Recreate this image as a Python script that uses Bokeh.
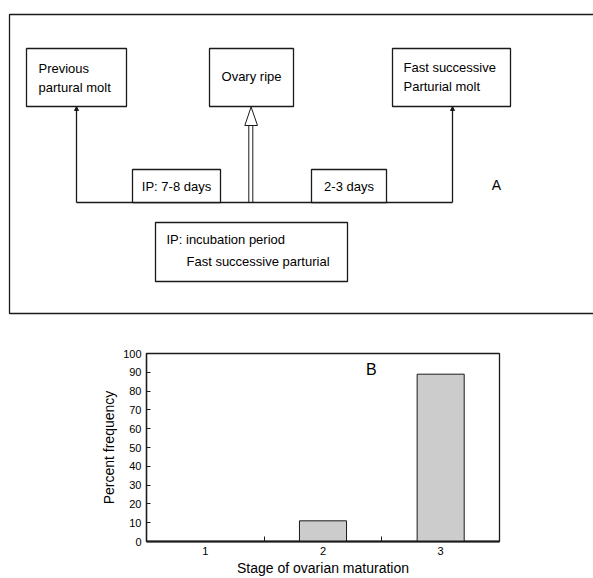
from bokeh.plotting import figure
from bokeh.layouts import column
from bokeh.models import Range1d, FixedTicker, Arrow, NormalHead
from bokeh.core.properties import value
from bokeh.embed import file_html
from bokeh.resources import INLINE

# ---------------- data (panel B) ----------------
stages = [1, 2, 3]
stage_labels = ["1", "2", "3"]
percent = [0, 11, 89]
y_ticks = list(range(0, 101, 10))

# ---------------- diagram text (panel A) ----------------
box_texts = [
    ["Previous", "partural molt"],
    ["Ovary ripe"],
    ["Fast successive", "Parturial molt"],
]
period_texts = ["IP: 7-8 days", "2-3 days"]
legend_texts = ["IP: incubation period", "Fast successive parturial"]
panel_a_label = "A"
panel_b_label = "B"

FONT = "Liberation Sans"
LC = "#1a1a1a"

# ---------------- panel A: diagram in pixel space ----------------
pa = figure(width=593, height=320, output_backend="svg", toolbar_location=None,
            x_range=Range1d(0, 593), y_range=Range1d(320, 0),
            min_border=0, outline_line_color=None)
pa.frame_align = False
pa.axis.visible = False
pa.grid.visible = False

# layout (positions only)
outer = dict(left=9, right=620, top=14, bottom=313)
top_boxes = dict(left=[26, 209, 392], right=[126, 293, 510], top=[48, 48, 48], bottom=[106, 106, 106])
per_boxes = dict(left=[132, 311], right=[220, 386], top=[169, 169], bottom=[202, 202])
leg_box = dict(left=155, right=347, top=222, bottom=281)
base_y = 202
left_x, right_x = 76, 452

pa.quad(left=[outer["left"]], right=[outer["right"]], top=[outer["top"]], bottom=[outer["bottom"]],
        fill_color=None, line_color=LC, line_width=1.3)
# baseline
pa.line([left_x, right_x], [base_y, base_y], line_color=LC, line_width=1.3)
# side arrows
for xx in (left_x, right_x):
    pa.add_layout(Arrow(end=NormalHead(size=4, fill_color=LC, line_color=LC),
                        x_start=xx, y_start=base_y, x_end=xx, y_end=106,
                        line_color=LC, line_width=1.3))
# center double-shaft hollow arrow
pa.segment(x0=[248.3, 252.3], y0=[base_y, base_y], x1=[248.3, 252.3], y1=[125, 125],
           line_color=LC, line_width=1)
pa.patch([244.3, 257.0, 250.6], [125, 125, 106.5], fill_color="white", line_color=LC, line_width=1)

pa.quad(fill_color="white", line_color=LC, line_width=1.3, **top_boxes)
pa.quad(fill_color="white", line_color=LC, line_width=1.3, **per_boxes)
pa.quad(left=[leg_box["left"]], right=[leg_box["right"]], top=[leg_box["top"]], bottom=[leg_box["bottom"]],
        fill_color="white", line_color=LC, line_width=1.3)

tf = value(FONT)
pa.text(x=[38, 38], y=[68, 87], text=box_texts[0], text_font=tf, text_font_size="13px",
        text_baseline="middle", text_align="left", text_color="black")
pa.text(x=[251], y=[76], text=box_texts[1], text_font=tf, text_font_size="13px",
        text_baseline="middle", text_align="center", text_color="black")
pa.text(x=[403, 403], y=[67, 86], text=box_texts[2], text_font=tf, text_font_size="13px",
        text_baseline="middle", text_align="left", text_color="black")
pa.text(x=[176, 348.5], y=[186, 186], text=period_texts, text_font=tf, text_font_size="13px",
        text_baseline="middle", text_align="center", text_color="black")
pa.text(x=[166, 186], y=[239, 261], text=legend_texts, text_font=tf, text_font_size="13px",
        text_baseline="middle", text_align="left", text_color="black")
pa.text(x=[496], y=[184], text=[panel_a_label], text_font=tf, text_font_size="14px",
        text_baseline="middle", text_align="center", text_color="black")

# ---------------- panel B: bar chart ----------------
pb = figure(width=593, height=258, output_backend="svg", toolbar_location=None,
            x_range=Range1d(0.5, 3.5), y_range=Range1d(0, 100),
            min_border_left=146, min_border_right=94, min_border_top=33, min_border_bottom=33,
            outline_line_color=LC, outline_line_width=1.3)
pb.frame_align = False
pb.grid.visible = False
pb.vbar(x=stages, top=percent, width=0.4, fill_color="#cccccc", line_color=LC, line_width=1)

pb.xaxis.ticker = FixedTicker(ticks=stages, minor_ticks=[1.5, 2.5])
pb.xaxis.major_label_overrides = {s: l for s, l in zip(stages, stage_labels)}
pb.xaxis.major_tick_in = 0
pb.xaxis.major_tick_out = 0
pb.xaxis.minor_tick_in = 5
pb.xaxis.minor_tick_out = 0
pb.xaxis.major_label_standoff = 5
pb.xaxis.axis_label = "Stage of ovarian maturation"
pb.xaxis.axis_label_standoff = 2

pb.yaxis.ticker = FixedTicker(ticks=y_ticks, minor_ticks=[])
pb.yaxis.major_tick_in = 4
pb.yaxis.major_tick_out = 0
pb.yaxis.major_label_standoff = 5
pb.yaxis.axis_label = "Percent frequency"
pb.yaxis.axis_label_standoff = 3

for ax in (pb.xaxis, pb.yaxis):
    ax.axis_line_color = LC
    ax.major_tick_line_color = LC
    ax.minor_tick_line_color = LC
    ax.major_label_text_font = FONT
    ax.major_label_text_font_size = "11px"
    ax.major_label_text_color = "black"
    ax.axis_label_text_font = FONT
    ax.axis_label_text_font_size = "14px"
    ax.axis_label_text_font_style = "normal"
    ax.axis_label_text_color = "black"
pb.xaxis.axis_line_width = 1.8
pb.yaxis.axis_line_width = 1.3

pb.text(x=[2.41], y=[91.5], text=[panel_b_label], text_font=tf, text_font_size="16px",
        text_baseline="middle", text_align="center", text_color="black")

layout = column(pa, pb, spacing=0)
open("out.html", "w").write(file_html(layout, INLINE))
